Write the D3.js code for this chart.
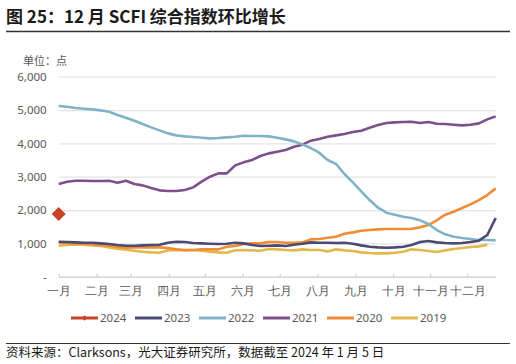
<!DOCTYPE html>
<html>
<head>
<meta charset="utf-8">
<script src="https://cdn.jsdelivr.net/npm/d3@7"></script>
<style>
  body { margin: 0; background: #fff; }
  svg { font-family: "Noto Sans CJK SC", "Noto Sans", sans-serif; }
</style>
</head>
<body>
<svg width="516" height="364"></svg>
<script>
// weekly SCFI composite index, one value per week (index 0 = first week of Jan)
var months = ["一月", "二月", "三月", "四月", "五月", "六月", "七月", "八月", "九月", "十月", "十一月", "十二月"];
var monthWeek = [0, 4.52, 8.57, 13.1, 17.4, 21.9, 26.3, 30.8, 35.3, 39.8, 44.2, 48.6];
var yTicks = [0, 1000, 2000, 3000, 4000, 5000, 6000];

var s2024 = [1880];
var s2023 = [1050, 1040, 1030, 1020, 1020, 1000, 980, 950, 930, 930, 940, 950, 960, 1020, 1050, 1040, 1010, 1000, 990, 980,
             990, 1020, 1000, 950, 920, 930, 940, 920, 960, 990, 1030, 1020, 1020, 1010, 1020, 990, 940, 900, 880, 870,
             880, 900, 950, 1040, 1070, 1030, 1010, 1000, 1010, 1040, 1080, 1250, 1760];
var s2022 = [5120, 5100, 5060, 5040, 5020, 4990, 4950, 4850, 4770, 4680, 4580, 4480, 4390, 4300, 4240, 4210, 4190, 4170, 4150, 4160,
             4180, 4200, 4230, 4220, 4220, 4210, 4170, 4120, 4060, 3970, 3860, 3720, 3500, 3380, 3080, 2830, 2560, 2300, 2070, 1920,
             1860, 1800, 1760, 1690, 1580, 1400, 1270, 1200, 1160, 1130, 1100, 1100, 1090];
var s2021 = [2780, 2850, 2880, 2880, 2870, 2870, 2880, 2820, 2880, 2780, 2740, 2660, 2590, 2570, 2570, 2600, 2680, 2850, 3000, 3100,
             3100, 3340, 3430, 3500, 3620, 3700, 3750, 3800, 3900, 3960, 4080, 4130, 4200, 4240, 4280, 4340, 4380, 4470, 4550, 4610,
             4630, 4640, 4650, 4610, 4640, 4590, 4580, 4560, 4540, 4560, 4600, 4720, 4810];
var s2020 = [1020, 1010, 1000, 990, 970, 950, 930, 900, 870, 880, 880, 880, 880, 860, 820, 800, 800, 820, 820, 820,
             900, 920, 980, 1000, 1000, 1040, 1040, 1020, 1020, 1030, 1120, 1130, 1170, 1200, 1290, 1330, 1380, 1400, 1420, 1430,
             1430, 1430, 1440, 1480, 1550, 1700, 1860, 1950, 2060, 2170, 2300, 2450, 2650];
var s2019 = [930, 950, 970, 960, 940, 920, 880, 840, 810, 780, 750, 730, 720, 790, 800, 790, 800, 780, 750, 730,
             720, 790, 800, 790, 780, 830, 820, 800, 790, 820, 800, 800, 760, 820, 790, 770, 730, 710, 700, 700,
             720, 750, 820, 800, 770, 740, 790, 830, 860, 890, 910, 960];

var seriesNames = ["2024", "2023", "2022", "2021", "2020", "2019"];
var seriesColors = ["#c9432a", "#4b4a72", "#80b2c8", "#7d4f8b", "#f08c33", "#e2b84a"];

var svg = d3.select("svg"),
    plotLeft = 58.7, plotRight = 495.7, plotTop = 76.7, plotBottom = 276.7;

var x = d3.scaleLinear().domain([0, 52]).range([plotLeft, plotRight]);
var y = d3.scaleLinear().domain([0, 6000]).range([plotBottom, plotTop]);

// title
svg.append("text")
    .attr("x", 6).attr("y", 23)
    .attr("font-size", 17).attr("font-weight", "bold").attr("fill", "#1a1a1a")
    .text("图 25：12 月 SCFI 综合指数环比增长");
svg.append("line")
    .attr("x1", 6).attr("x2", 510).attr("y1", 31.5).attr("y2", 31.5)
    .attr("stroke", "#333").attr("stroke-width", 1.3);

svg.append("text")
    .attr("x", 23).attr("y", 65)
    .attr("font-size", 11).attr("fill", "#595959")
    .text("单位：点");

// grid + y labels
var yAxis = svg.append("g")
    .attr("transform", "translate(" + plotLeft + ",0)")
    .call(d3.axisLeft(y).tickValues(yTicks)
        .tickSize(-(plotRight - plotLeft))
        .tickFormat(function(d) { return d === 0 ? "-" : d3.format(",")(d); }));
yAxis.select(".domain").remove();
yAxis.selectAll(".tick line").attr("stroke", "#e4e4e4").attr("stroke-width", 1.2);
yAxis.selectAll(".tick text")
    .attr("x", -12)
    .attr("font-size", 11.5).attr("fill", "#595959")
    .attr("font-family", "Noto Sans, sans-serif");

// x axis
var xAxis = svg.append("g")
    .attr("transform", "translate(0," + plotBottom + ")")
    .call(d3.axisBottom(x).tickValues(monthWeek)
        .tickSizeInner(-3).tickSizeOuter(0)
        .tickFormat(function(d, i) { return months[i]; }));
xAxis.select(".domain").attr("stroke", "#d0d0d0");
xAxis.selectAll(".tick line").attr("stroke", "#c8c8c8");
xAxis.selectAll(".tick text")
    .attr("y", 10).attr("font-size", 12).attr("fill", "#595959");

var line = d3.line()
    .x(function(d, i) { return x(i); })
    .y(function(d) { return y(d); });

var lines = [s2019, s2020, s2021, s2022, s2023];
var lineColors = [seriesColors[5], seriesColors[4], seriesColors[3], seriesColors[2], seriesColors[1]];

svg.append("g").selectAll("path")
    .data(lines)
  .enter().append("path")
    .attr("fill", "none")
    .attr("stroke", function(d, i) { return lineColors[i]; })
    .attr("stroke-width", 2.6)
    .attr("stroke-linejoin", "round")
    .attr("d", line);

// 2024 only has one point -> rotated square marker
var marker = d3.symbol().type(d3.symbolSquare).size(98);
svg.append("g").selectAll("path")
    .data(s2024)
  .enter().append("path")
    .attr("transform", function(d, i) { return "translate(" + x(i) + "," + y(d) + ") rotate(45)"; })
    .attr("fill", seriesColors[0])
    .attr("d", marker);

// legend
var legend = svg.append("g").selectAll("g")
    .data(seriesNames)
  .enter().append("g")
    .attr("transform", function(d, i) { return "translate(" + (71 + i * 64) + ",318)"; });
legend.append("line")
    .attr("x1", 0).attr("x2", 27)
    .attr("stroke", function(d, i) { return seriesColors[i]; })
    .attr("stroke-width", 3);
legend.filter(function(d, i) { return i === 0; }).append("path")
    .attr("transform", "translate(13.5,0) rotate(45)")
    .attr("fill", seriesColors[0])
    .attr("d", d3.symbol().type(d3.symbolSquare).size(16));
legend.append("text")
    .attr("x", 29).attr("dy", "0.35em")
    .attr("font-size", 11.5).attr("fill", "#595959")
    .attr("font-family", "Noto Sans, sans-serif")
    .text(function(d) { return d; });

// source
svg.append("line")
    .attr("x1", 6).attr("x2", 510).attr("y1", 343.5).attr("y2", 343.5)
    .attr("stroke", "#333").attr("stroke-width", 1.2);
svg.append("text")
    .attr("x", 6).attr("y", 357)
    .attr("font-size", 12.5).attr("fill", "#1a1a1a")
    .text("资料来源：Clarksons，光大证券研究所，数据截至 2024 年 1 月 5 日");
</script>
</body>
</html>
